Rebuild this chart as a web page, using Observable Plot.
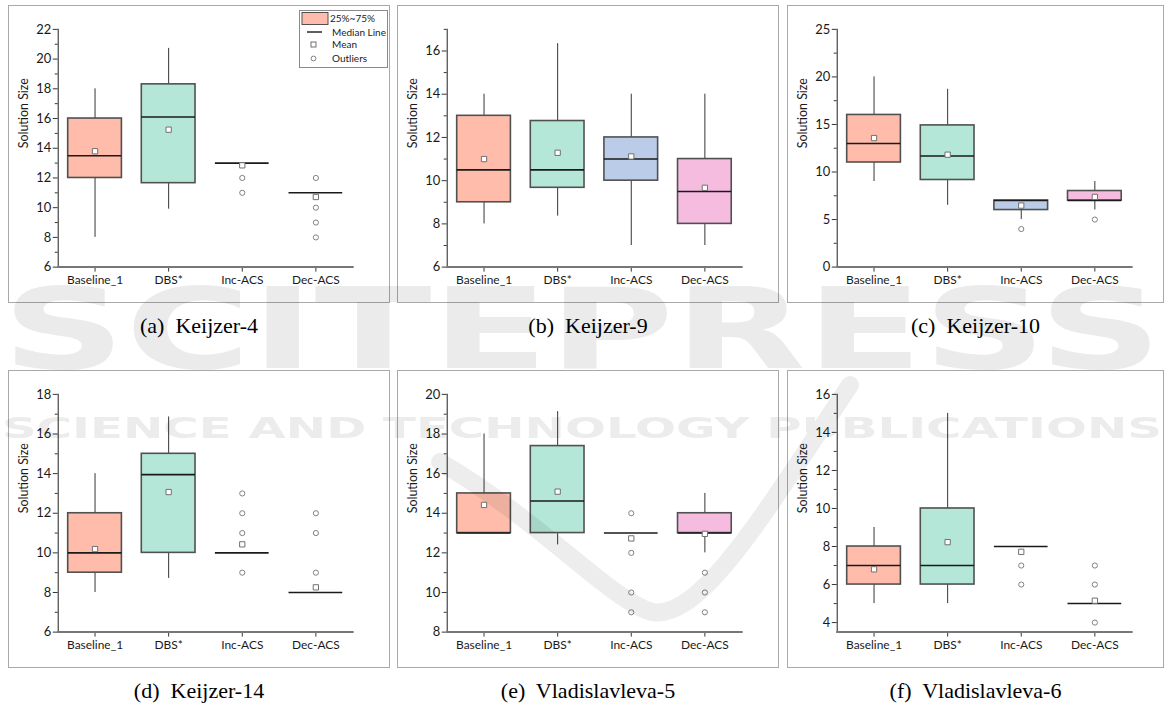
<!DOCTYPE html>
<html><head><meta charset="utf-8">
<script src="https://cdn.jsdelivr.net/npm/d3@7"></script>
<script src="https://cdn.jsdelivr.net/npm/@observablehq/plot@0.6"></script>
<style>
body{margin:0;background:#fff;width:1164px;height:705px;overflow:hidden;position:relative;font-family:Lato,"Open Sans",sans-serif;}
.panel{position:absolute;border:1.5px solid #a9a9a9;box-sizing:border-box;overflow:visible;}
.panel svg{position:absolute;left:-1.5px;top:-1.5px;}
.cap{position:absolute;font-family:"Liberation Serif","Times New Roman",serif;font-size:22px;color:#000;transform:translate(-50%,-50%);white-space:pre;}
#wm{position:absolute;left:0;top:0;pointer-events:none;mix-blend-mode:multiply;}
#legend{position:absolute;left:299px;top:10px;width:89px;height:58px;border:1px solid #8a8a8a;background:#fff;box-sizing:border-box;}
</style></head><body>
<script>
const categories = ["Baseline_1", "DBS*", "Inc-ACS", "Dec-ACS"];
const boxColors = ["#ffbcaa", "#b4e7d7", "#bacce7", "#f5bce0"];
const captions = ["(a)  Keijzer-4", "(b)  Keijzer-9", "(c)  Keijzer-10", "(d)  Keijzer-14", "(e)  Vladislavleva-5", "(f)  Vladislavleva-6"];
const yTitle = "Solution Size";

// (a) Keijzer-4
const k4Domain = [6, 22];
const k4Major = [6, 8, 10, 12, 14, 16, 18, 20, 22];
const k4Minor = [7, 9, 11, 13, 15, 17, 19, 21];
const k4Q1 = [12, 11.65, 13, 11];
const k4Q3 = [16, 18.3, 13, 11];
const k4Median = [13.5, 16.1, 13, 11];
const k4Mean = [13.8, 15.25, 12.85, 10.72];
const k4Low = [8, 9.9, 13, 11];
const k4High = [18, 20.72, 13, 11];
const k4Outliers = [[], [], [12, 11], [12, 10, 9, 8]];

// (b) Keijzer-9
const k9Domain = [6, 17];
const k9Major = [6, 8, 10, 12, 14, 16];
const k9Minor = [7, 9, 11, 13, 15, 17];
const k9Q1 = [9, 9.67, 10, 8];
const k9Q3 = [13, 12.76, 12, 11];
const k9Median = [10.5, 10.5, 11, 9.5];
const k9Mean = [11.0, 11.29, 11.12, 9.67];
const k9Low = [8, 8.36, 7, 7];
const k9High = [14, 16.34, 14, 14];
const k9Outliers = [[], [], [], []];

// (c) Keijzer-10
const k10Domain = [0, 25];
const k10Major = [0, 5, 10, 15, 20, 25];
const k10Minor = [2.5, 7.5, 12.5, 17.5, 22.5];
const k10Q1 = [11, 9.16, 6, 7];
const k10Q3 = [16, 14.9, 7, 8];
const k10Median = [13, 11.68, 7, 7];
const k10Mean = [13.57, 11.82, 6.47, 7.38];
const k10Low = [9, 6.5, 5, 6];
const k10High = [20, 18.7, 7, 9];
const k10Outliers = [[], [], [4], [5]];

// (d) Keijzer-14
const k14Domain = [6, 18];
const k14Major = [6, 8, 10, 12, 14, 16, 18];
const k14Minor = [7, 9, 11, 13, 15, 17];
const k14Q1 = [9, 10, 10, 8];
const k14Q3 = [12, 15, 10, 8];
const k14Median = [10, 13.95, 10, 8];
const k14Mean = [10.19, 13.07, 10.43, 8.26];
const k14Low = [8, 8.71, 10, 8];
const k14High = [14, 16.86, 10, 8];
const k14Outliers = [[], [], [13, 12, 11, 9], [12, 11, 9]];

// (e) Vladislavleva-5
const v5Domain = [8, 20];
const v5Major = [8, 10, 12, 14, 16, 18, 20];
const v5Minor = [9, 11, 13, 15, 17, 19];
const v5Q1 = [13, 13, 13, 13];
const v5Q3 = [15, 17.39, 13, 14];
const v5Median = [13, 14.62, 13, 13];
const v5Mean = [14.42, 15.09, 12.73, 12.96];
const v5Low = [13, 12.4, 13, 12];
const v5High = [18, 19.13, 13, 15];
const v5Outliers = [[], [], [14, 12, 10, 9], [11, 10, 9]];

// (f) Vladislavleva-6
const v6Domain = [3.5, 16];
const v6Major = [4, 6, 8, 10, 12, 14, 16];
const v6Minor = [5, 7, 9, 11, 13, 15];
const v6Q1 = [6, 6, 8, 5];
const v6Q3 = [8, 10, 8, 5];
const v6Median = [7, 7, 8, 5];
const v6Mean = [6.8, 8.23, 7.72, 5.15];
const v6Low = [5, 5, 8, 5];
const v6High = [9, 15, 8, 5];
const v6Outliers = [[], [], [7, 6], [7, 6, 4]];

const panels = [
  {domain: k4Domain, major: k4Major, minor: k4Minor, q1: k4Q1, q3: k4Q3, med: k4Median, mean: k4Mean, lo: k4Low, hi: k4High, out: k4Outliers},
  {domain: k9Domain, major: k9Major, minor: k9Minor, q1: k9Q1, q3: k9Q3, med: k9Median, mean: k9Mean, lo: k9Low, hi: k9High, out: k9Outliers},
  {domain: k10Domain, major: k10Major, minor: k10Minor, q1: k10Q1, q3: k10Q3, med: k10Median, mean: k10Mean, lo: k10Low, hi: k10High, out: k10Outliers},
  {domain: k14Domain, major: k14Major, minor: k14Minor, q1: k14Q1, q3: k14Q3, med: k14Median, mean: k14Mean, lo: k14Low, hi: k14High, out: k14Outliers},
  {domain: v5Domain, major: v5Major, minor: v5Minor, q1: v5Q1, q3: v5Q3, med: v5Median, mean: v5Mean, lo: v5Low, hi: v5High, out: v5Outliers},
  {domain: v6Domain, major: v6Major, minor: v6Minor, q1: v6Q1, q3: v6Q3, med: v6Median, mean: v6Mean, lo: v6Low, hi: v6High, out: v6Outliers}
];

const colLeft = [8, 397, 787];
const colWidth = [382, 382, 377];
const rowTop = [5, 370];
const panelH = 298;
const FONT = "Lato, 'Open Sans', sans-serif";

function makePlot(p, w) {
  const rows = categories.map((c, i) => ({cat: c, q1: p.q1[i], q3: p.q3[i], med: p.med[i], mean: p.mean[i], lo: p.lo[i], hi: p.hi[i], color: boxColors[i]}));
  const outs = categories.flatMap((c, i) => p.out[i].map(v => ({cat: c, v})));
  return Plot.plot({
    width: w, height: panelH,
    marginLeft: 50, marginRight: w - 346, marginTop: 24, marginBottom: 35,
    style: {background: "transparent", fontFamily: FONT, fontSize: "12px", color: "#1a1a1a", overflow: "visible"},
    x: {domain: categories, paddingInner: 0.27, paddingOuter: 0.135, label: null},
    y: {domain: p.domain, label: null},
    marks: [
      Plot.ruleX(rows, {x: "cat", y1: "lo", y2: "hi", stroke: "#333", strokeWidth: 1}),
      Plot.barY(rows.filter(d => d.q3 > d.q1), {x: "cat", y1: "q1", y2: "q3", fill: "color", stroke: "#505050", strokeWidth: 1.6}),
      Plot.tickY(rows, {x: "cat", y: "med", stroke: "#1a1a1a", strokeWidth: 1.6}),
      Plot.dot(outs, {x: "cat", y: "v", r: 2.6, stroke: "#808080", fill: "white", strokeWidth: 1}),
      Plot.dot(rows, {x: "cat", y: "mean", symbol: "square", r: 3, stroke: "#707070", fill: "white", strokeWidth: 1}),
      Plot.axisY({ticks: p.major, tickSize: 5, tickPadding: 2, fontSize: 13, label: null, stroke: "#333"}),
      Plot.axisY({ticks: p.minor, tickSize: 3, tickFormat: () => "", label: null, stroke: "#333"}),
      Plot.axisX({tickSize: 5, tickPadding: 3, fontSize: 12, label: null, stroke: "#333"}),
      Plot.frame({anchor: "left", stroke: "#444", strokeWidth: 1.2}),
      Plot.frame({anchor: "bottom", stroke: "#777", strokeWidth: 2}),
      Plot.text([yTitle], {frameAnchor: "left", dx: -34, rotate: -90, fontSize: 12.5, fill: "#1a1a1a"})
    ]
  });
}

panels.forEach((p, i) => {
  const r = Math.floor(i / 3), c = i % 3;
  const div = document.createElement("div");
  div.className = "panel";
  div.style.left = colLeft[c] + "px";
  div.style.top = rowTop[r] + "px";
  div.style.width = colWidth[c] + "px";
  div.style.height = panelH + "px";
  div.appendChild(makePlot(p, colWidth[c]));
  document.body.appendChild(div);
  const cap = document.createElement("div");
  cap.className = "cap";
  cap.textContent = captions[i];
  cap.style.left = (colLeft[c] + colWidth[c] / 2) + "px";
  cap.style.top = (rowTop[r] + panelH + 23) + "px";
  document.body.appendChild(cap);
});

// legend in panel (a)
const leg = document.createElement("div");
leg.id = "legend";
leg.innerHTML = `<svg width="89" height="58" style="position:absolute;left:-1px;top:-1px;font-family:${FONT};font-size:10px;">
 <rect x="3" y="2.5" width="26" height="12" fill="${boxColors[0]}" stroke="#505050" stroke-width="1"/>
 <text x="31" y="12" fill="#1a1a1a">25%~75%</text>
 <line x1="8" x2="23" y1="22" y2="22" stroke="#1a1a1a" stroke-width="1.4"/>
 <text x="33" y="25.5" fill="#1a1a1a">Median Line</text>
 <rect x="12" y="32" width="5" height="5" fill="white" stroke="#707070"/>
 <text x="33" y="38" fill="#1a1a1a">Mean</text>
 <circle cx="14.5" cy="48.5" r="2.4" fill="white" stroke="#808080"/>
 <text x="33" y="52" fill="#1a1a1a">Outliers</text>
</svg>`;
document.body.appendChild(leg);

// publisher watermark, painted as a light background image layer
const cv = document.createElement("canvas");
cv.id = "wm"; cv.width = 1164; cv.height = 705;
document.body.appendChild(cv);
function paintWatermark() {
  const ctx = cv.getContext("2d");
  ctx.clearRect(0, 0, 1164, 705);
  ctx.strokeStyle = "#ededed"; ctx.lineWidth = 18; ctx.lineCap = "round";
  ctx.beginPath();
  ctx.moveTo(440, 462);
  ctx.bezierCurveTo(540, 520, 610, 600, 652, 612);
  ctx.bezierCurveTo(700, 620, 760, 520, 850, 385);
  ctx.stroke();
  function stretched(txt, x, y, size, width, color) {
    ctx.save();
    ctx.font = `bold ${size}px "DejaVu Sans"`;
    const w = ctx.measureText(txt).width;
    ctx.translate(x, y);
    ctx.scale(width / w, 1);
    ctx.fillStyle = color;
    ctx.fillText(txt, 0, 0);
    ctx.restore();
  }
  stretched("SCITEPRESS", 2, 368, 112, 1160, "#ebebeb");
  stretched("SCIENCE AND TECHNOLOGY PUBLICATIONS", 2, 438, 29, 1160, "#ececec");
}
paintWatermark();
if (document.fonts && document.fonts.ready) document.fonts.ready.then(paintWatermark);
</script>
</body></html>
